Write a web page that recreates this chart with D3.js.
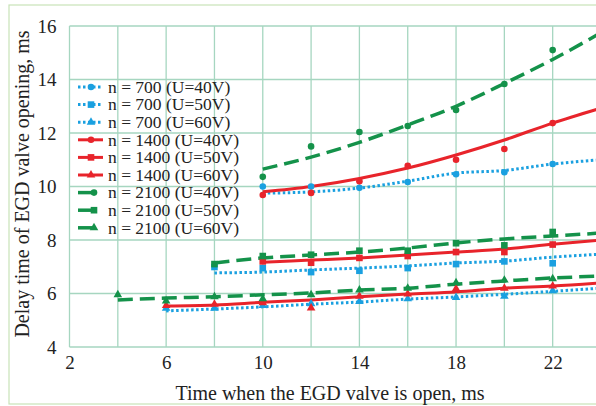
<!DOCTYPE html>
<html>
<head>
<meta charset="utf-8">
<script src="https://cdn.jsdelivr.net/npm/d3@7"></script>
<style>
  body { margin: 0; background: #fff; }
  svg { display: block; }
  svg text { font-family: "Liberation Serif", "DejaVu Serif", serif; fill: #222; }
</style>
</head>
<body>
<div id="chart"></div>
<script>
// measured points (x = time valve open, ms)
var pts40x = [10, 12, 14, 16, 18, 20, 22];
var pts50x = [8, 10, 12, 14, 16, 18, 20, 22];
var pts60x = [4, 6, 8, 10, 12, 14, 16, 18, 20, 22];

var n700_40 = [10.0, 10.0, 9.95, 10.17, 10.46, 10.53, 10.84];
var n1400_40 = [9.68, 9.76, 10.2, 10.77, 11.0, 11.4, 12.37];
var n2100_40 = [10.36, 11.5, 12.04, 12.26, 12.86, 13.83, 15.1];

var n700_50 = [6.99, 6.95, 6.8, 6.85, 6.95, 7.1, 7.2, 7.13];
var n1400_50 = [null, 7.2, 7.15, 7.33, 7.4, 7.55, 7.55, 7.83];
var n2100_50 = [7.1, 7.4, 7.45, 7.6, 7.6, 7.88, 7.8, 8.3];

var n700_60 = [null, 5.45, 5.45, 5.55, 5.62, 5.7, 5.8, 5.85, 5.9, 6.1];
var n1400_60 = [null, 5.55, 5.6, 5.65, 5.46, 5.9, 5.98, 6.18, 6.2, 6.28];
var n2100_60 = [5.95, 5.72, 5.88, 5.8, 5.95, 6.13, 6.2, 6.4, 6.5, 6.55];

// trend lines
var fit40x = [10, 12, 14, 16, 18, 20, 22, 24];
var fit700_40 = [9.75, 9.8, 9.94, 10.2, 10.5, 10.6, 10.84, 11.0];
var fit1400_40 = [9.8, 10.0, 10.3, 10.69, 11.18, 11.74, 12.37, 12.93];
var fit2100_40 = [10.65, 11.1, 11.65, 12.3, 13.0, 13.85, 14.75, 15.75];

var fit50x = [8, 10, 12, 14, 16, 18, 20, 22, 24];
var fit700_50 = [6.77, 6.8, 6.88, 6.95, 7.03, 7.14, 7.21, 7.36, 7.47];
var fit1400_50 = [null, 7.17, 7.25, 7.33, 7.44, 7.55, 7.66, 7.84, 8.0];
var fit2100_50 = [7.14, 7.33, 7.44, 7.55, 7.7, 7.89, 8.04, 8.15, 8.26];

var fit60x = [4, 6, 8, 10, 12, 14, 16, 18, 20, 22, 24];
var fit700_60 = [null, 5.35, 5.42, 5.5, 5.6, 5.68, 5.79, 5.87, 5.97, 6.08, 6.2];
var fit1400_60 = [null, 5.53, 5.57, 5.67, 5.76, 5.88, 5.98, 6.06, 6.2, 6.28, 6.4];
var fit2100_60 = [5.76, 5.83, 5.88, 5.95, 6.02, 6.13, 6.2, 6.35, 6.47, 6.58, 6.65];

var xTicks = [2, 6, 10, 14, 18, 22];
var yTicks = [4, 6, 8, 10, 12, 14, 16];

var legendLabels = [
  "n = 700 (U=40V)", "n = 700 (U=50V)", "n = 700 (U=60V)",
  "n = 1400 (U=40V)", "n = 1400 (U=50V)", "n = 1400 (U=60V)",
  "n = 2100 (U=40V)", "n = 2100 (U=50V)", "n = 2100 (U=60V)"
];

var blue = "#1aa0e0", red = "#e8242b", green = "#14924a", gridCol = "#a6d6c0";

var width = 596, height = 406;

var svg = d3.select("#chart").append("svg")
  .attr("width", width)
  .attr("height", height);

// light green frame of the figure
svg.append("rect")
  .attr("x", 9).attr("y", 5)
  .attr("width", 620).attr("height", 399)
  .attr("fill", "none")
  .attr("stroke", "#c8e3b8")
  .attr("stroke-width", 1.2);

var x = d3.scaleLinear().domain([2, 24]).range([69.5, 601]);
var y = d3.scaleLinear().domain([4, 16]).range([347, 26]);

// grid
var gridX = d3.range(2, 25, 2);
svg.append("g").selectAll("line")
  .data(gridX)
  .enter().append("line")
  .attr("x1", d => x(d)).attr("x2", d => x(d))
  .attr("y1", y(4)).attr("y2", y(16))
  .attr("stroke", gridCol).attr("stroke-width", 1.3);

svg.append("g").selectAll("line")
  .data(yTicks)
  .enter().append("line")
  .attr("x1", x(2)).attr("x2", x(24))
  .attr("y1", d => y(d)).attr("y2", d => y(d))
  .attr("stroke", gridCol).attr("stroke-width", 1.3);

// axes (labels only)
var xAxis = svg.append("g")
  .attr("transform", "translate(0," + y(4) + ")")
  .call(d3.axisBottom(x).tickValues(xTicks).tickSize(0).tickPadding(9));
xAxis.select(".domain").remove();
xAxis.selectAll("text")
  .attr("font-family", "Liberation Serif")
  .attr("font-size", "19px")
  .attr("fill", "#222");

var yAxis = svg.append("g")
  .attr("transform", "translate(" + x(2) + ",0)")
  .call(d3.axisLeft(y).tickValues(yTicks).tickSize(0).tickPadding(13));
yAxis.select(".domain").remove();
yAxis.selectAll("text")
  .attr("font-family", "Liberation Serif")
  .attr("font-size", "19px")
  .attr("fill", "#222");

svg.append("text")
  .attr("x", 330).attr("y", 400)
  .attr("text-anchor", "middle")
  .attr("font-size", "20px")
  .text("Time when the EGD valve is open, ms");

svg.append("text")
  .attr("transform", "translate(29,184) rotate(-90)")
  .attr("text-anchor", "middle")
  .attr("font-size", "20px")
  .text("Delay time of EGD valve opening, ms");

// line styles
var styles = {
  700: { color: blue, dash: "2.5,2.5", width: 3 },
  1400: { color: red, dash: null, width: 3 },
  2100: { color: green, dash: "15,7", width: 3.5 }
};

var plot = svg.append("g");

var line = d3.line()
  .defined(d => d[1] != null)
  .x(d => x(d[0]))
  .y(d => y(d[1]))
  .curve(d3.curveMonotoneX);

function drawFit(xs, ys, n) {
  var s = styles[n];
  plot.append("path")
    .datum(xs.map((v, i) => [v, ys[i]]))
    .attr("d", line)
    .attr("fill", "none")
    .attr("stroke", s.color)
    .attr("stroke-width", s.width)
    .attr("stroke-dasharray", s.dash);
}

function marker(g, shape, cx, cy, color) {
  if (shape == "circle") {
    g.append("circle").attr("cx", cx).attr("cy", cy).attr("r", 3.3).attr("fill", color);
  } else if (shape == "square") {
    g.append("rect").attr("x", cx - 3.3).attr("y", cy - 3.3)
      .attr("width", 6.6).attr("height", 6.6).attr("fill", color);
  } else {
    g.append("path")
      .attr("d", d3.symbol().type(d3.symbolTriangle).size(32)())
      .attr("transform", "translate(" + cx + "," + cy + ")")
      .attr("fill", color);
  }
}

function drawPoints(xs, ys, n, shape) {
  var g = plot.append("g");
  xs.forEach((v, i) => {
    if (ys[i] == null) return;
    marker(g, shape, x(v), y(ys[i]), styles[n].color);
  });
}

drawFit(fit60x, fit700_60, 700);
drawFit(fit60x, fit1400_60, 1400);
drawFit(fit60x, fit2100_60, 2100);
drawFit(fit50x, fit700_50, 700);
drawFit(fit50x, fit1400_50, 1400);
drawFit(fit50x, fit2100_50, 2100);
drawFit(fit40x, fit700_40, 700);
drawFit(fit40x, fit1400_40, 1400);
drawFit(fit40x, fit2100_40, 2100);

drawPoints(pts40x, n700_40, 700, "circle");
drawPoints(pts40x, n1400_40, 1400, "circle");
drawPoints(pts40x, n2100_40, 2100, "circle");
drawPoints(pts50x, n700_50, 700, "square");
drawPoints(pts50x, n1400_50, 1400, "square");
drawPoints(pts50x, n2100_50, 2100, "square");
drawPoints(pts60x, n700_60, 700, "triangle");
drawPoints(pts60x, n1400_60, 1400, "triangle");
drawPoints(pts60x, n2100_60, 2100, "triangle");

// legend
var legendN = [700, 700, 700, 1400, 1400, 1400, 2100, 2100, 2100];
var legendShape = ["circle", "square", "triangle"];

var legend = svg.selectAll(".legend")
  .data(legendLabels)
  .enter().append("g")
  .attr("class", "legend")
  .attr("transform", (d, i) => "translate(0," + (87 + i * 17.6) + ")");

legend.each(function(d, i) {
  var g = d3.select(this);
  var s = styles[legendN[i]];
  var x2 = legendN[i] == 2100 ? 95 : 103;
  g.append("line")
    .attr("x1", 78).attr("x2", x2)
    .attr("y1", 0).attr("y2", 0)
    .attr("stroke", s.color)
    .attr("stroke-width", s.width)
    .attr("stroke-dasharray", legendN[i] == 700 ? s.dash : null);
  marker(g, legendShape[i % 3], legendN[i] == 2100 ? 94 : 91, 0, s.color);
  g.append("text")
    .attr("x", 108).attr("y", 0)
    .attr("dy", ".33em")
    .attr("font-size", "17.5px")
    .text(d);
});
</script>
</body>
</html>
